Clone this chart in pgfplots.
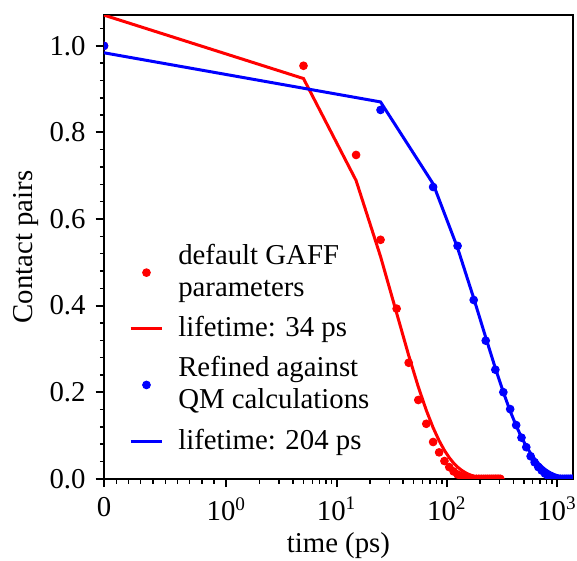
\documentclass[border=0pt]{standalone}
\usepackage{fontspec}
\setmainfont{Liberation Serif}
\usepackage{pgfplots}
\pgfplotsset{compat=1.18}
\pgfplotsset{
  dotleg/.style={legend image code/.code={\path[draw=none,fill=none] (0pt,0pt) -- (17.9pt,0pt);\draw[##1] plot[mark=*] coordinates {(6.65pt,0pt)};}},
  lineleg/.style={legend image code/.code={\path[draw=none,fill=none] (0pt,0pt) -- (17.9pt,0pt);\draw[##1] (0pt,0pt) -- (13.3pt,0pt);}},
  frame/.style={at={(0,0)}, anchor=south west,
    scale only axis, width=195.4pt, height=193.2pt,
    xmin=0, xmax=4.2544, ymin=0, ymax=1.071},
}
\pgfplotstableread{
t c
0 1.0
5 0.954
15 0.748
25 0.552
35 0.393
45 0.268
55 0.182
65 0.127
75 0.085
85 0.061
95 0.041
105 0.027
115 0.017
125 0.010
135 0.006
145 0.003
155 0.002
165 0.001
175 0.0
185 0.0
195 0.0
205 0.0
215 0.0
225 0.0
235 0.0
245 0.0
255 0.0
265 0.0
275 0.0
285 0.0
295 0.0
305 0.0
}\reddots
\pgfplotstableread{
t c
0 1.071
5 0.9245
15 0.6890
25 0.5134
35 0.3826
45 0.2851
55 0.2124
65 0.1583
75 0.1180
85 0.0879
95 0.0655
105 0.0488
115 0.0364
125 0.0271
135 0.0202
145 0.0151
155 0.0112
165 0.0084
175 0.0062
185 0.0046
195 0.0035
205 0.0026
215 0.0019
225 0.0014
235 0.0011
245 0.0008
255 0.0006
265 0.0004
275 0.0003
285 0.0002
295 0.0002
305 0.0001
}\redfit
\pgfplotstableread{
t c
0 1.0
25 0.852
75 0.674
125 0.538
175 0.413
225 0.319
275 0.252
325 0.200
375 0.161
425 0.124
475 0.095
525 0.073
575 0.052
625 0.038
675 0.027
725 0.019
775 0.012
825 0.007
875 0.004
925 0.002
975 0.001
1025 0.0
1075 0.0
1125 0.0
1175 0.0
1225 0.0
1275 0.0
1325 0.0
1375 0.0
1425 0.0
1475 0.0
}\bluedots
\pgfplotstableread{
t c
0 0.984
25 0.8705
75 0.6813
125 0.5332
175 0.4173
225 0.3266
275 0.2556
325 0.2000
375 0.1566
425 0.1225
475 0.0959
525 0.0750
575 0.0587
625 0.0460
675 0.0360
725 0.0282
775 0.0220
825 0.0172
875 0.0135
925 0.0106
975 0.0083
1025 0.0065
1075 0.0051
1125 0.0040
1175 0.0031
1225 0.0024
1275 0.0019
1325 0.0015
1375 0.0012
1425 0.0009
1475 0.0007
}\bluefit
\begin{document}
\fontsize{12}{14.4}\selectfont
\begin{tikzpicture}
\begin{axis}[frame,
  % symlog x axis (linear for t<=1, log above): applied to the data only
  x filter/.expression={1.1111*min(x,1)+log10(max(x,1))},
  axis line style={line width=0.8pt},
  tick align=outside, xtick pos=bottom, ytick pos=left,
  major tick length=3.5pt, minor tick length=1.7pt,
  every major tick/.style={line width=0.8pt, black},
  every minor tick/.style={line width=0.6pt, black},
  xtick={0,1.1111,2.1111,3.1111,4.1111},
  xticklabels={0,10\textsuperscript{0},10\textsuperscript{1},10\textsuperscript{2},10\textsuperscript{3}},
  ytick={0,0.2,0.4,0.6,0.8,1.0},
  minor ytick={0.04,0.08,0.12,0.16,0.24,0.28,0.32,0.36,0.44,0.48,0.52,0.56,0.64,0.68,0.72,0.76,0.84,0.88,0.92,0.96,1.04},
  /pgf/number format/assume math mode=true,
  yticklabel style={/pgf/number format/.cd, fixed, fixed zerofill, precision=1},
  xlabel={time (ps)}, ylabel={Contact pairs},
  xlabel style={at={(axis description cs:0.5,0)}, anchor=center, yshift=-28pt},
  ylabel shift=-3.5pt,
  clip marker paths=true,
  legend style={draw=none, fill=none, at={(0.037,0.033)}, anchor=south west,
    cells={anchor=west, align=left}, font=\fontsize{12}{13.3}\selectfont,
    row sep=2.5pt},
]
\addplot[only marks, mark=*, mark size=1.6pt, red, mark options={draw=none, fill=red}, dotleg]
  table[x=t, y=c] {\reddots};
\addlegendentry{default GAFF\\parameters}
\addplot[red, line width=1.25pt, mark=none, lineleg]
  table[x=t, y=c] {\redfit};
\addlegendentry{lifetime: 34 ps}
\addplot[only marks, mark=*, mark size=1.6pt, blue, mark options={draw=none, fill=blue}, dotleg]
  table[x=t, y=c] {\bluedots};
\addlegendentry{Refined against\\QM calculations}
\addplot[blue, line width=1.25pt, mark=none, lineleg]
  table[x=t, y=c] {\bluefit};
\addlegendentry{lifetime: 204 ps}
\end{axis}
% minor ticks of the symlog x axis (positions in the transformed scale)
\begin{axis}[frame, hide axis, clip=false]
\pgfplotsinvokeforeach{0.1111,0.2222,0.3333,0.4444,0.5556,0.6667,0.7778,0.8889,1.0,
    1.4121,1.5882,1.7132,1.8101,1.8893,1.9562,2.0142,2.0653,
    2.4121,2.5882,2.7132,2.8101,2.8893,2.9562,3.0142,3.0653,
    3.4121,3.5882,3.7132,3.8101,3.8893,3.9562,4.0142,4.0653}{
  \draw[black, line width=0.6pt] (axis cs:#1,0) -- ++(0pt,-2.1pt);
}
\end{axis}
\pgfresetboundingbox
\path[use as bounding box] (-43.33pt,-33.9pt) rectangle (197.1pt,199.5pt);
\end{tikzpicture}
\end{document}
